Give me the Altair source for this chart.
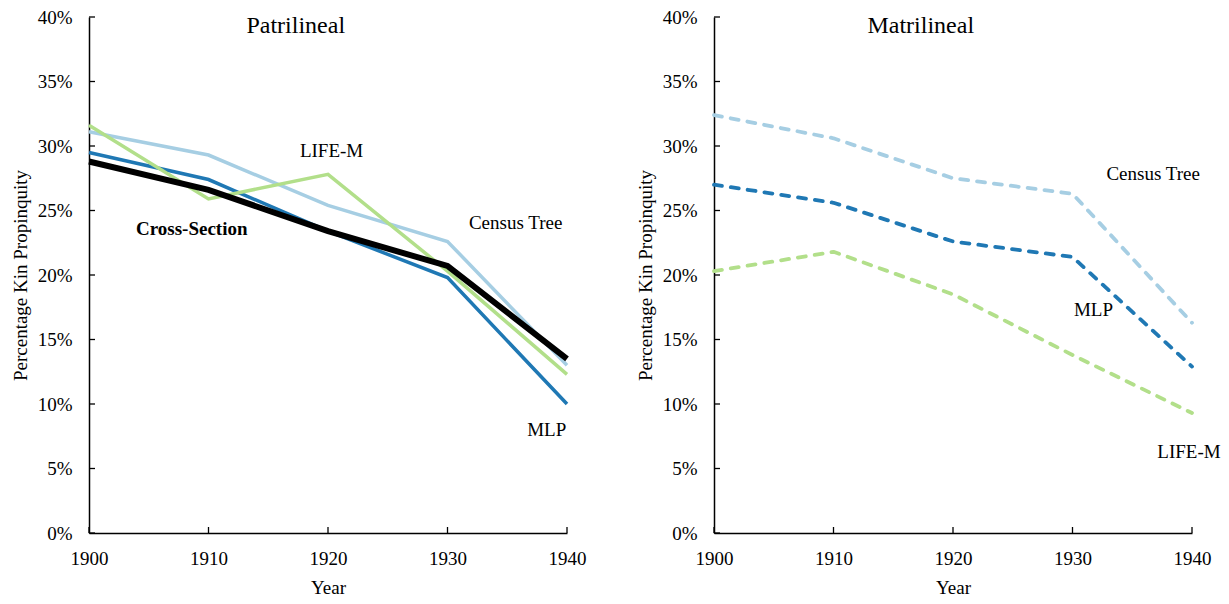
import altair as alt
import pandas as pd

# ---------------- data ----------------
years = [1900, 1910, 1920, 1930, 1940]
y_ticks = [0, 5, 10, 15, 20, 25, 30, 35, 40]

series_names = ["Census Tree", "MLP", "LIFE-M", "Cross-Section"]
series_colors = ["#a6cee3", "#1f78b4", "#b2df8a", "#000000"]

patri_census = [31.1, 29.3, 25.4, 22.6, 13.0]
patri_mlp = [29.5, 27.4, 23.4, 19.8, 10.0]
patri_lifem = [31.6, 25.9, 27.8, 20.3, 12.3]
patri_cross = [28.8, 26.6, 23.4, 20.7, 13.5]

matri_census = [32.4, 30.6, 27.5, 26.3, 16.3]
matri_mlp = [27.0, 25.6, 22.6, 21.4, 12.9]
matri_lifem = [20.3, 21.8, 18.5, 13.8, 9.3]

# annotation texts and their anchor points (in data units)
patri_label_text = ["Patrilineal", "LIFE-M", "Cross-Section", "Census Tree", "MLP"]
patri_label_year = [1917.3, 1920.3, 1908.6, 1935.7, 1938.3]
patri_label_val = [39.3, 29.6, 23.6, 24.0, 8.0]
patri_label_bold = [False, False, True, False, False]
patri_label_size = [24, 19, 19, 19, 19]

matri_label_text = ["Matrilineal", "Census Tree", "MLP", "LIFE-M"]
matri_label_year = [1917.3, 1936.75, 1931.75, 1939.75]
matri_label_val = [39.3, 27.8, 17.3, 6.25]
matri_label_bold = [False, False, False, False]
matri_label_size = [24, 19, 19, 19]

FONT = "Liberation Serif"
W, H = 478, 516

x_enc = alt.X(
    "year:Q",
    scale=alt.Scale(domain=[1900, 1940], nice=False, zero=False),
    axis=alt.Axis(
        values=years, format="d", tickSize=0, labelPadding=16,
        labelFlush=False, title="Year", titlePadding=10,
    ),
)
y_enc = alt.Y(
    "value:Q",
    scale=alt.Scale(domain=[0, 40], nice=False),
    axis=alt.Axis(
        values=y_ticks, labelExpr="datum.value + '%'", tickSize=0,
        labelFlush=False, labelPadding=17,
        title="Percentage Kin Propinquity", titlePadding=7,
    ),
)


def panel(series_vals, dashed, lab_text, lab_year, lab_val, lab_bold, lab_size):
    layers = []
    for name, vals in series_vals:
        idx = series_names.index(name)
        df = pd.DataFrame({"year": years, "value": vals, "series": name})
        kw = dict(
            color=series_colors[idx],
            strokeWidth=6 if name == "Cross-Section" else 3.5,
            strokeJoin="miter" if not dashed else "round",
        )
        if dashed:
            kw.update(strokeDash=[8, 9], strokeCap="round", strokeWidth=3.8)
        layers.append(alt.Chart(df).mark_line(**kw).encode(x=x_enc, y=y_enc))

    # inward ticks
    ydf = pd.DataFrame({"value": y_ticks})
    layers.append(
        alt.Chart(ydf).mark_rule(color="black", strokeWidth=1.3).encode(
            y=y_enc, x=alt.value(0), x2=alt.value(6)
        )
    )
    xdf = pd.DataFrame({"year": years})
    layers.append(
        alt.Chart(xdf).mark_rule(color="black", strokeWidth=1.3).encode(
            x=x_enc, y=alt.value(H), y2=alt.value(H - 6)
        )
    )

    ldf = pd.DataFrame({
        "year": lab_year, "value": lab_val, "text": lab_text,
        "bold": lab_bold, "size": lab_size,
    })
    for bold in (False, True):
        for size in sorted(set(lab_size)):
            sub = ldf[(ldf["bold"] == bold) & (ldf["size"] == size)]
            if len(sub) == 0:
                continue
            layers.append(
                alt.Chart(sub).mark_text(
                    font=FONT, fontSize=size, color="#000000",
                    fontWeight="bold" if bold else "normal",
                    align="center", baseline="middle",
                ).encode(x=x_enc, y=y_enc, text="text:N")
            )
    return alt.layer(*layers).properties(width=W, height=H)


left = panel(
    [("Census Tree", patri_census), ("MLP", patri_mlp),
     ("LIFE-M", patri_lifem), ("Cross-Section", patri_cross)],
    False, patri_label_text, patri_label_year, patri_label_val,
    patri_label_bold, patri_label_size,
)
right = panel(
    [("Census Tree", matri_census), ("MLP", matri_mlp), ("LIFE-M", matri_lifem)],
    True, matri_label_text, matri_label_year, matri_label_val,
    matri_label_bold, matri_label_size,
)

chart = (
    alt.hconcat(left, right, spacing=50)
    .properties(
        padding={"left": 3, "top": 0, "right": 0, "bottom": 0},
        background="white",
    )
    .configure_view(stroke=None)
    .configure_axis(
        grid=False, domainColor="#000000", domainWidth=1.5,
        labelFont=FONT, labelFontSize=19, labelColor="#000000",
        titleFont=FONT, titleFontSize=19, titleColor="#000000",
        titleFontWeight="normal",
    )
)

chart.save("out.html", embed_options={"renderer": "svg", "actions": False})
